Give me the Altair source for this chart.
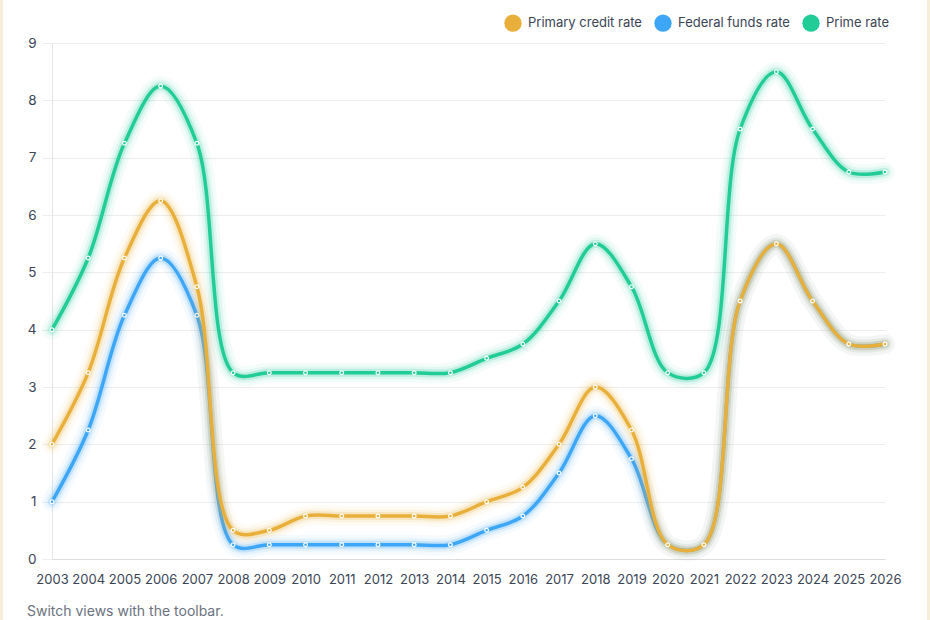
import altair as alt
import pandas as pd

years = list(range(2003, 2027))
primary_credit = [2.0, 3.25, 5.25, 6.25, 4.75, 0.5, 0.5, 0.75, 0.75, 0.75, 0.75, 0.75, 1.0, 1.25, 2.0, 3.0, 2.25, 0.25, 0.25, 4.5, 5.5, 4.5, 3.75, 3.75]
federal_funds = [1.0, 2.25, 4.25, 5.25, 4.25, 0.25, 0.25, 0.25, 0.25, 0.25, 0.25, 0.25, 0.5, 0.75, 1.5, 2.5, 1.75, 0.25, 0.25, 4.5, 5.5, 4.5, 3.75, 3.75]
prime = [4.0, 5.25, 7.25, 8.25, 7.25, 3.25, 3.25, 3.25, 3.25, 3.25, 3.25, 3.25, 3.5, 3.75, 4.5, 5.5, 4.75, 3.25, 3.25, 7.5, 8.5, 7.5, 6.75, 6.75]
caption = ["Switch views with the toolbar."]

series_names = ["Primary credit rate", "Federal funds rate", "Prime rate"]
series_colors = ["#e8b03a", "#3ea6f7", "#21cc96"]

rows = []
for name, vals in zip(series_names, [primary_credit, federal_funds, prime]):
    for y, v in zip(years, vals):
        rows.append({"year": y, "rate": v, "series": name})
df = pd.DataFrame(rows)

color_scale = alt.Scale(domain=series_names, range=series_colors)
FONT = "Inter"
TXT = "#3b4556"

x_enc = alt.X("year:Q", scale=alt.Scale(domain=[2003, 2026], nice=False, zero=False),
              axis=alt.Axis(values=years, format="d", title=None, grid=False, ticks=False,
                            labelPadding=14, labelFontSize=13, labelColor=TXT, labelFont=FONT,
                            domainColor="#dddddd", labelOverlap=False, labelFlush=False))
y_enc = alt.Y("rate:Q", scale=alt.Scale(domain=[0, 9]),
              axis=alt.Axis(values=list(range(0, 10)), title=None, gridColor="#eeeeee",
                            tickColor="#eeeeee", tickSize=10, labelPadding=6, labelFontSize=13.5,
                            labelColor=TXT, labelFont=FONT, domainColor="#e6e6e6"))

legend = alt.Legend(title=None, orient="none", legendX=452, legendY=-29,
                    direction="horizontal", symbolType="circle", symbolSize=300,
                    symbolStrokeWidth=0, labelFontSize=13, labelColor=TXT,
                    labelFont=FONT, columnPadding=12, symbolOpacity=1, labelOffset=6)
col = alt.Color("series:N", scale=color_scale, legend=legend)


def series_layers(name):
    d = alt.Chart(df).transform_filter(alt.datum.series == name)
    glow0 = d.mark_line(interpolate="catmull-rom", strokeWidth=20, opacity=0.05, strokeCap="round").encode(x=x_enc, y=y_enc, color=col)
    glow1 = d.mark_line(interpolate="catmull-rom", strokeWidth=13, opacity=0.09, strokeCap="round").encode(x=x_enc, y=y_enc, color=col)
    glow2 = d.mark_line(interpolate="catmull-rom", strokeWidth=8, opacity=0.2, strokeCap="round").encode(x=x_enc, y=y_enc, color=col)
    line = d.mark_line(interpolate="catmull-rom", strokeWidth=3.5, opacity=1, strokeCap="round").encode(x=x_enc, y=y_enc, color=col)
    pts = d.mark_point(filled=True, size=14, stroke="white", strokeWidth=1.2, opacity=1).encode(x=x_enc, y=y_enc, color=col)
    return [glow0, glow1, glow2, line, pts]


layers = series_layers("Federal funds rate") + series_layers("Primary credit rate") + series_layers("Prime rate")

cap = alt.Chart(pd.DataFrame({"t": caption})).mark_text(
    align="left", baseline="middle", fontSize=14, color="#6b7280", font=FONT
).encode(x=alt.value(-25), y=alt.value(569), text="t:N")
layers.append(cap)

# decorative page-frame edges
edge_l = alt.Chart(pd.DataFrame({"a": [0]})).mark_rule(color="#f6eed9", strokeWidth=3).encode(
    x=alt.value(-50.5), y=alt.value(-43), y2=alt.value(577))
edge_r = alt.Chart(pd.DataFrame({"a": [0]})).mark_rule(color="#f6eed9", strokeWidth=3).encode(
    x=alt.value(876.5), y=alt.value(-43), y2=alt.value(577))
layers += [edge_l, edge_r]

chart = alt.layer(*layers).properties(
    width=833, height=516,
    autosize=alt.AutoSizeParams(type="none"),
    padding={"left": 52, "top": 43, "right": 45, "bottom": 61},
    view=alt.ViewBackground(stroke=None, strokeWidth=0),
).configure_view(stroke=None, clip=False).configure(background="white")

chart.save("out.html", embed_options={"renderer": "svg", "actions": False})
